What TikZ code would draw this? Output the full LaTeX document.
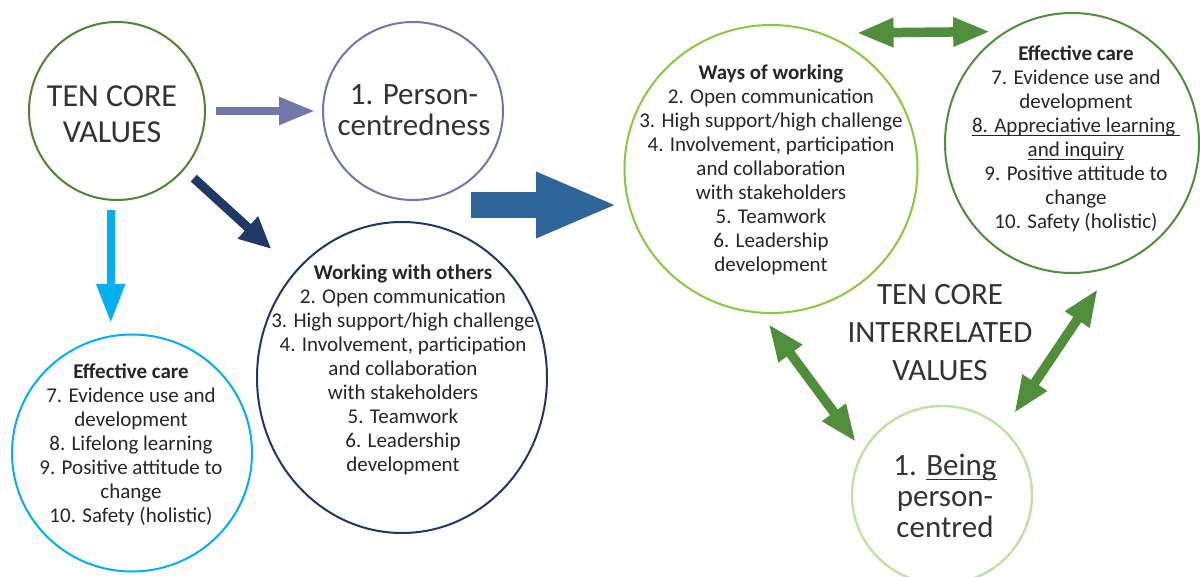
\documentclass[tikz,border=0pt]{standalone}
\usepackage{fontspec}
\setmainfont{Carlito}
\usetikzlibrary{arrows.meta,shapes.geometric}
\definecolor{coregreen}{HTML}{548235}
\definecolor{personblue}{HTML}{7078A8}
\definecolor{navy}{HTML}{1F3864}
\definecolor{skyblue}{HTML}{00B0F0}
\definecolor{shiftblue}{HTML}{2E6699}
\definecolor{wayslime}{HTML}{8DC63F}
\definecolor{caregreen}{HTML}{508E3C}
\definecolor{beingpale}{HTML}{C5E0A5}
\definecolor{txtgray}{HTML}{262626}
\definecolor{lightgray}{HTML}{333333}
\newcommand{\ulbox}[2]{{\setbox0\hbox{#2}\rlap{\rule[#1]{\wd0}{0.45pt}}\box0}}

\begin{document}
\begin{tikzpicture}[x=0.5pt,y=-0.5pt,
    bigtext/.style={font=\fontsize{16}{18}\selectfont,text=lightgray},
    midtext/.style={font=\fontsize{15.5}{15.5}\selectfont,text=lightgray},
    listtext/.style={font=\fontsize{10.5}{12}\selectfont}]
\useasboundingbox (0,0) rectangle (1200,577);

\begin{scope}[every node/.style={ellipse,draw,line width=1pt,inner sep=0pt}]
    \node[draw=coregreen,minimum width=88pt,minimum height=89pt] (core) at (117,111) {};
    \node[draw=personblue,minimum width=90pt,minimum height=89pt] (person) at (413,111) {};
    \node[draw=navy,minimum width=145pt,minimum height=155.5pt] (working) at (402,377.5) {};
    \node[draw=skyblue,minimum width=120pt,minimum height=118.5pt] (effL) at (132,453) {};
    \node[draw=wayslime,minimum width=146.5pt,minimum height=144pt] (ways) at (771,169) {};
    \node[draw=caregreen,minimum width=127pt,minimum height=130pt] (effR) at (1072,143) {};
    \node[draw=beingpale,line width=1.2pt,minimum width=90pt,minimum height=89pt] (being) at (942,495) {};
\end{scope}

\begin{scope}[every node/.style={align=center,text=txtgray}]
    \node[bigtext] (coreT) at (112,114) {TEN CORE\\VALUES};
    \node[midtext] (personT) at (414,110) {1. Person-\\centredness};
    \node[listtext] (effLT) at (131,445) {\textbf{Effective care}\\7. Evidence use and\\development\\8. Lifelong learning\\9. Positive attitude to\\change\\10. Safety (holistic)};
    \node[listtext] (workingT) at (403,370) {\textbf{Working with others}\\2. Open communication\\3. High support/high challenge\\4. Involvement, participation\\and collaboration\\with stakeholders\\5. Teamwork\\6. Leadership\\development};
    \node[listtext] (waysT) at (771,170) {\textbf{Ways of working}\\2. Open communication\\3. High support/high challenge\\4. Involvement, participation\\and collaboration\\with stakeholders\\5. Teamwork\\6. Leadership\\development};
    \node[listtext] (effRT) at (1076,139) {\textbf{Effective care}\\7. Evidence use and\\development\\\ulbox{-1.4pt}{8. Appreciative learning\ }\\\ulbox{-1.4pt}{and inquiry}\\9. Positive attitude to\\change\\10. Safety (holistic)};
    \node[midtext] (beingT) at (945,496) {1. \ulbox{-2.2pt}{Being}\\person-\\centred};
    \node[font=\fontsize{15.5}{19}\selectfont,text=lightgray] (centreT) at (940,333) {TEN CORE\\INTERRELATED\\VALUES};
\end{scope}

\coordinate (shiftA) at (471,205);
\coordinate (shiftB) at (618,205);

\begin{scope}[
              every edge/.style={draw}]
    \path (core.east) edge[draw=personblue,line width=4pt,-{Triangle[length=18pt,width=13pt]},shorten <=5pt,shorten >=3.5pt] (person.west);
    \path (core.-94) edge[draw=skyblue,line width=4pt,-{Triangle[length=19.5pt,width=13.5pt]},shorten <=4.6pt,shorten >=5.25pt] (core.-94 |- effL.north);
    \path (core.-41.6) edge[draw=navy,line width=4.5pt,-{Triangle[length=16pt,width=14pt]},shorten <=6.3pt,shorten >=16.1pt] (working.135.6);
    \path (shiftA) edge[draw=shiftblue,line width=13pt,-{Triangle[length=41pt,width=30pt]}] (shiftB);
    \path (ways.69.5) edge[draw=caregreen,line width=4.75pt,{Triangle[length=18.5pt,width=13.5pt]}-{Triangle[length=18.5pt,width=13.5pt]},shorten <=16.75pt,shorten >=7.4pt] (effR.121.3);
    \path (ways.-94) edge[draw=caregreen,line width=4.75pt,{Triangle[length=18.5pt,width=13.5pt]}-{Triangle[length=18.5pt,width=13.5pt]},shorten <=6.4pt,shorten >=5.5pt] (being.151);
    \path (effR.-72) edge[draw=caregreen,line width=4.75pt,{Triangle[length=18.5pt,width=13.5pt]}-{Triangle[length=18.5pt,width=13.5pt]},shorten <=13pt,shorten >=9.3pt] (being.47);
\end{scope}
\end{tikzpicture}
\end{document}
